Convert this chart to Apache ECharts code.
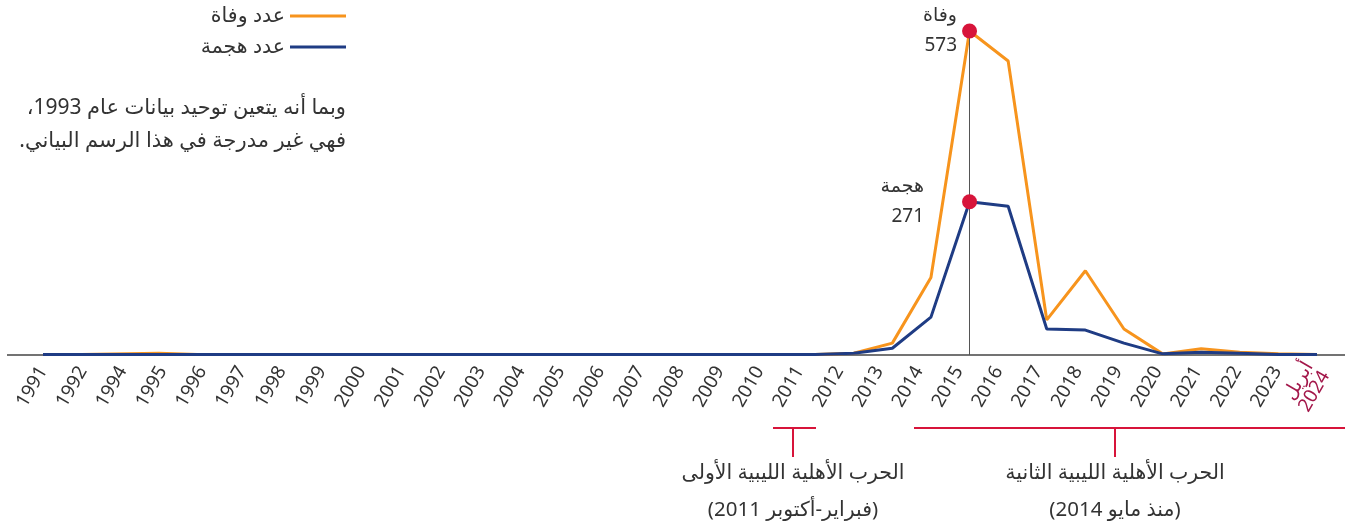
<!DOCTYPE html>
<html>
<head>
<meta charset="utf-8">
<script src="https://cdn.jsdelivr.net/npm/echarts@6/dist/echarts.min.js"></script>
<style>
html,body{margin:0;padding:0;background:#fff;}
#c{width:1357px;height:528px;}
</style>
</head>
<body>
<div id="c" dir="rtl"></div>
<script>
// data years (1993 not included) and tick labels (evenly spaced as in the source)
const dataYears = [1991,1992,1994,1995,1996,1997,1998,1999,2000,2001,2002,2003,2004,2005,2006,2007,2008,2009,2010,2011,2012,2013,2014,2015,2016,2017,2018,2019,2020,2021,2022,2023,2024];
const tickLabels = ['1991','1992','1994','1995','1996','1997','1998','1999','2000','2001','2002','2003','2004','2005','2006','2007','2008','2009','2010','2011','2012','2013','2014','2015','2016','2017','2018','2019','2020','2021','2022','2023','2024'];
const deaths  = [1,1,3,1,1,1,1,1,1,1,1,1,1,1,1,1,1,1,1,1,3,21,137,573,520,62,149,46,2,11,5,2,1];
const attacks = [1,1,1,1,1,1,1,1,1,1,1,1,1,1,1,1,1,1,1,1,3,12,67,271,263,46,44,21,2,5,3,1,1];
const seriesNames = ['عدد وفاة','عدد هجمة'];
const peakLabels = ['وفاة','هجمة'];
const lastLabelPrefix = 'أبريل';
const noteLines = ['وبما أنه يتعين توحيد بيانات عام 1993،','فهي غير مدرجة في هذا الرسم البياني.'];
const war1 = ['الحرب الأهلية الليبية الأولى','(فبراير-أكتوبر 2011)'];
const war2 = ['الحرب الأهلية الليبية الثانية','(منذ مايو 2014)'];

const FONT = "'Noto Sans', 'DejaVu Sans', sans-serif";
const ORANGE = '#f7941d';
const BLUE = '#1f3c84';
const RED = '#d7143a';
const CRIMSON = '#a3174a';
const TXT = '#333333';

const chart = echarts.init(document.getElementById('c'));
const peakIdx = deaths.indexOf(Math.max(...deaths));
const pairs = (vals) => dataYears.map((y, i) => [y, vals[i]]);

function peakPoint(values, name, offset) {
  return {
    symbol: 'none',
    data: [{
      coord: [dataYears[peakIdx], values[peakIdx]],
      symbol: 'circle', symbolSize: 15,
      itemStyle: {color: RED},
      label: {
        show: true, position: 'left', distance: offset,
        formatter: name + '\n' + values[peakIdx],
        align: 'right', color: TXT, fontSize: 19, lineHeight: 30, fontFamily: FONT
      }
    }]
  };
}

const txt = (x, y, s) => ({type: 'text', x: x, y: y, style: {text: s, fill: TXT, fontSize: 20.5, fontFamily: FONT, align: 'center', verticalAlign: 'middle'}});

chart.setOption({
  animation: false,
  textStyle: {fontFamily: FONT},
  grid: {left: 43, right: 40, top: 31, bottom: 173},
  legend: {
    orient: 'vertical', align: 'right', right: 1011, top: 5, padding: 0,
    itemWidth: 56, itemHeight: 3, itemGap: 9, icon: 'rect',
    textStyle: {fontSize: 20.5, color: TXT, lineHeight: 22, fontFamily: FONT},
    data: seriesNames
  },
  xAxis: [
    {type: 'value', min: dataYears[0], max: dataYears[dataYears.length - 1], show: false, splitLine: {show: false}},
    {
      type: 'category', data: tickLabels, boundaryGap: false, position: 'bottom',
      axisLine: {show: false}, axisTick: {show: false}, splitLine: {show: false},
      axisLabel: {
        interval: 0, rotate: 60, margin: 13, fontSize: 19, color: TXT, fontFamily: FONT,
        formatter: function (v, i) {
          if (i === tickLabels.length - 1) return '{r|' + lastLabelPrefix + '}\n{r|' + v + '}';
          return v;
        },
        rich: {r: {color: CRIMSON, fontSize: 19, lineHeight: 19, fontFamily: FONT}}
      }
    }
  ],
  yAxis: {type: 'value', min: 0, max: 573, show: false, splitLine: {show: false}},
  series: [
    {
      name: seriesNames[0], type: 'line', data: pairs(deaths), showSymbol: false, xAxisIndex: 0,
      lineStyle: {color: ORANGE, width: 3}, itemStyle: {color: ORANGE},
      markLine: {
        silent: true, symbol: 'none', label: {show: false},
        lineStyle: {color: '#555', width: 1, type: 'solid'},
        data: [{xAxis: dataYears[peakIdx]}]
      },
      markPoint: peakPoint(deaths, peakLabels[0], 5),
      z: 2
    },
    {
      name: seriesNames[1], type: 'line', data: pairs(attacks), showSymbol: false, xAxisIndex: 0,
      lineStyle: {color: BLUE, width: 3}, itemStyle: {color: BLUE},
      markPoint: peakPoint(attacks, peakLabels[1], 38),
      z: 3
    }
  ],
  graphic: [
    {type: 'line', shape: {x1: 7, y1: 355, x2: 1345, y2: 355}, style: {stroke: '#444', lineWidth: 1.5}, z: 1},
    {type: 'text', x: 346, y: 92, style: {text: noteLines.join('\n'), fill: TXT, fontSize: 21, lineHeight: 33, fontFamily: FONT, align: 'right'}},
    {type: 'line', shape: {x1: 773, y1: 428, x2: 816, y2: 428}, style: {stroke: RED, lineWidth: 2}},
    {type: 'line', shape: {x1: 793, y1: 428, x2: 793, y2: 457}, style: {stroke: RED, lineWidth: 2}},
    {type: 'line', shape: {x1: 914, y1: 428, x2: 1345, y2: 428}, style: {stroke: RED, lineWidth: 2}},
    {type: 'line', shape: {x1: 1115, y1: 428, x2: 1115, y2: 457}, style: {stroke: RED, lineWidth: 2}},
    txt(793, 473, war1[0]), txt(793, 510, war1[1]),
    txt(1115, 473, war2[0]), txt(1115, 510, war2[1])
  ]
});
</script>
</body>
</html>
